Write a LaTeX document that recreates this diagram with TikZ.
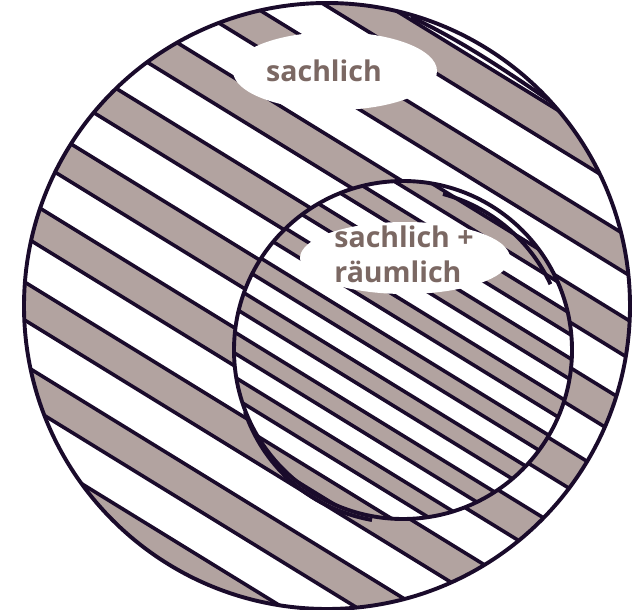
\documentclass[tikz,border=0pt]{standalone}
\usepackage{fontspec}
\setmainfont{Open Sans}
\definecolor{stripe}{HTML}{B2A3A0}
\definecolor{ink}{HTML}{1A0B2B}
\definecolor{labeltext}{HTML}{7B6863}
\begin{document}
\begin{tikzpicture}[
 x=1pt,y=-1pt,
 every node/.style={font=\bfseries\fontsize{28.5}{35}\selectfont,text=labeltext},
 band/.style={fill=stripe},
 edge/.style={draw=ink,line width=3.6pt},
 rim/.style={draw=ink,line width=3.9pt},
 tag/.style={fill=white}
]
 \useasboundingbox (0,0) rectangle (641,610);

 % outer circle: wide bands
 \begin{scope}
  \clip (327,306) circle[radius=303pt];
  \foreach \k in {-5,...,5} {
   \pgfmathsetmacro\d{100.3+83.3*\k}
   \path[band] (0,\d) -- (641,\d+394.2) -- (641,\d+432.2) -- (0,\d+38) -- cycle;
   \draw[edge] (0,\d) -- (641,\d+394.2);
   \draw[edge] (0,\d+38) -- (641,\d+432.2);
  }
 \end{scope}

 % inner circle: narrow bands
 \begin{scope}
  \clip (403,350) circle[radius=169pt];
  \fill[white] (403,350) circle[radius=169pt];
  \foreach \k in {-5,...,5} {
   \pgfmathsetmacro\d{97.8+45*\k}
   \path[band] (0,\d) -- (641,\d+394.2) -- (641,\d+415.2) -- (0,\d+21) -- cycle;
   \draw[edge] (0,\d) -- (641,\d+394.2);
   \draw[edge] (0,\d+21) -- (641,\d+415.2);
  }
 \end{scope}

 \draw[rim] (327,306) circle[radius=303pt];
 \draw[rim] (403,350) circle[radius=169pt];
 % second strokes of the sketch
 \draw[rim] (411,17) .. controls (460,40) and (505,70) .. (550,101);
 \draw[rim] (443,194) arc[start angle=-75,end angle=-25,radius=166];
 \draw[rim] (245,412) .. controls (262,462) and (305,508) .. (372,520);

 % labels
 \fill[tag] (335,71) ellipse[x radius=102,y radius=39];
 \node (sachlich) at (324,71) {sachlich};
 \fill[tag] (405,258) ellipse[x radius=105,y radius=36];
 \node[align=left] (both) at (404,254) {sachlich +\\räumlich};
\end{tikzpicture}
\end{document}
